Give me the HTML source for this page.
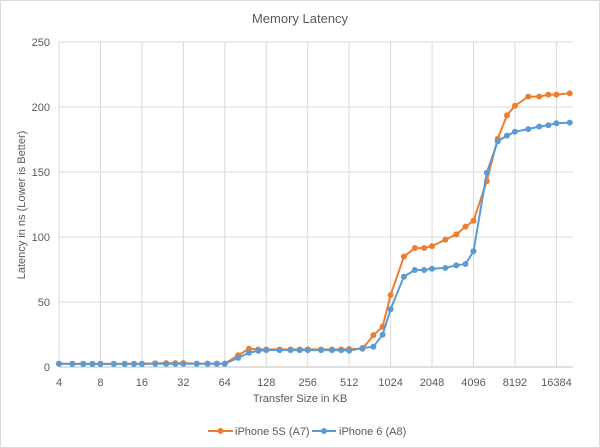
<!DOCTYPE html>
<html><head><meta charset="utf-8"><style>
body{margin:0;background:#fff;}
svg{display:block;font-family:"Liberation Sans",Calibri,sans-serif;}
</style></head><body>
<svg id="chart" width="600" height="448">
<rect x="0.5" y="0.5" width="599" height="447" fill="#fff" stroke="#d9d9d9"/>
<text x="300" y="23" text-anchor="middle" font-size="13" fill="#595959">Memory Latency</text>
<g id="grid"></g>
<g id="series"></g>
<text x="300" y="402" text-anchor="middle" font-size="11" fill="#595959">Transfer Size in KB</text>
<text transform="translate(25,205) rotate(-90)" text-anchor="middle" font-size="11" fill="#595959">Latency in ns (Lower is Better)</text>
<g>
<g>
<line x1="208" y1="431" x2="233" y2="431" stroke="#ed7d31" stroke-width="2"/>
<circle cx="220.5" cy="431" r="3" fill="#ed7d31"/>
<text x="235" y="435" font-size="11" fill="#595959">iPhone 5S (A7)</text></g>
<g>
<line x1="312" y1="431" x2="336" y2="431" stroke="#5b9bd5" stroke-width="2"/>
<circle cx="324" cy="431" r="3" fill="#5b9bd5"/>
<text x="339" y="435" font-size="11" fill="#595959">iPhone 6 (A8)</text></g>
</g>
</svg>
<script>
const sizesKB=[4,5,6,7,8,10,12,14,16,20,24,28,32,40,48,56,64,80,96,112,128,160,192,224,256,320,384,448,512,640,768,896,1024,1280,1536,1792,2048,2560,3072,3584,4096,5120,6144,7168,8192,10240,12288,14336,16384,20480];
const iphone5s=[2.5,2.5,2.5,2.5,2.5,2.5,2.5,2.5,2.5,2.8,3,3,3,2.6,2.6,2.6,2.6,9,14,13.5,13.5,13.5,13.5,13.5,13.5,13.5,13.5,13.5,13.8,14,24.4,31,55.4,84.9,91.5,91.5,93,98,102,108,112.5,143,175.6,193.6,201,208,208,209.5,209.5,210.5];
const iphone6=[2.5,2.3,2.3,2.3,2.3,2.3,2.3,2.3,2.3,2.5,2.5,2.5,2.5,2.5,2.5,2.5,2.5,7,11,12.5,13,13,13,13,13,13,13,13,12.6,14.6,15.6,24.9,44.4,69.5,74.6,74.6,75.6,76.2,78.2,79.2,89,149.5,173.6,178,181,183,185,186,187.5,188];
const xTicks=[4,8,16,32,64,128,256,512,1024,2048,4096,8192,16384];
const yTicks=[0,50,100,150,200,250];
const NS='http://www.w3.org/2000/svg';
const X0=59,X1=573,Y0=367,Y1=42,PER=41.45;
const xs=kb=>X0+PER*Math.log2(kb/4);
const ys=v=>Y0-(Y0-Y1)*v/250;
function mk(t,a,p){const e=document.createElementNS(NS,t);for(const k in a)e.setAttribute(k,a[k]);p.appendChild(e);return e;}
const grid=document.getElementById('grid');
yTicks.forEach(v=>{
 const l=mk('line',{x1:X0,x2:X1,y1:ys(v),y2:ys(v),stroke:v===0?'#bfbfbf':'#d9d9d9'},grid);
 
 
 const t=mk('text',{x:50,y:ys(v)+4,'text-anchor':'end','font-size':'11',fill:'#595959'},grid);
 t.textContent=v;
 
 
});
xTicks.forEach(k=>{
 const l=mk('line',{x1:xs(k),x2:xs(k),y1:Y1,y2:Y0,stroke:'#d9d9d9'},grid);
 
 
 const t=mk('text',{x:xs(k),y:386,'text-anchor':'middle','font-size':'11',fill:'#595959'},grid);
 t.textContent=k;
 
 
});
const sg=document.getElementById('series');
[[iphone5s,'#ed7d31','series-iphone-5s'],[iphone6,'#5b9bd5','series-iphone-6']].forEach(([vals,c,name])=>{
 const g=mk('g',{},sg);
 
 
 const pts=vals.map((v,i)=>xs(sizesKB[i]).toFixed(1)+','+ys(v).toFixed(1)).join(' ');
 const pl=mk('polyline',{points:pts,fill:'none',stroke:c,'stroke-width':2},g);
 
 
 vals.forEach((v,i)=>{
  const p=mk('circle',{cx:xs(sizesKB[i]),cy:ys(v),r:3,fill:c},g);
  
  
 });
});
</script>
</body></html>
